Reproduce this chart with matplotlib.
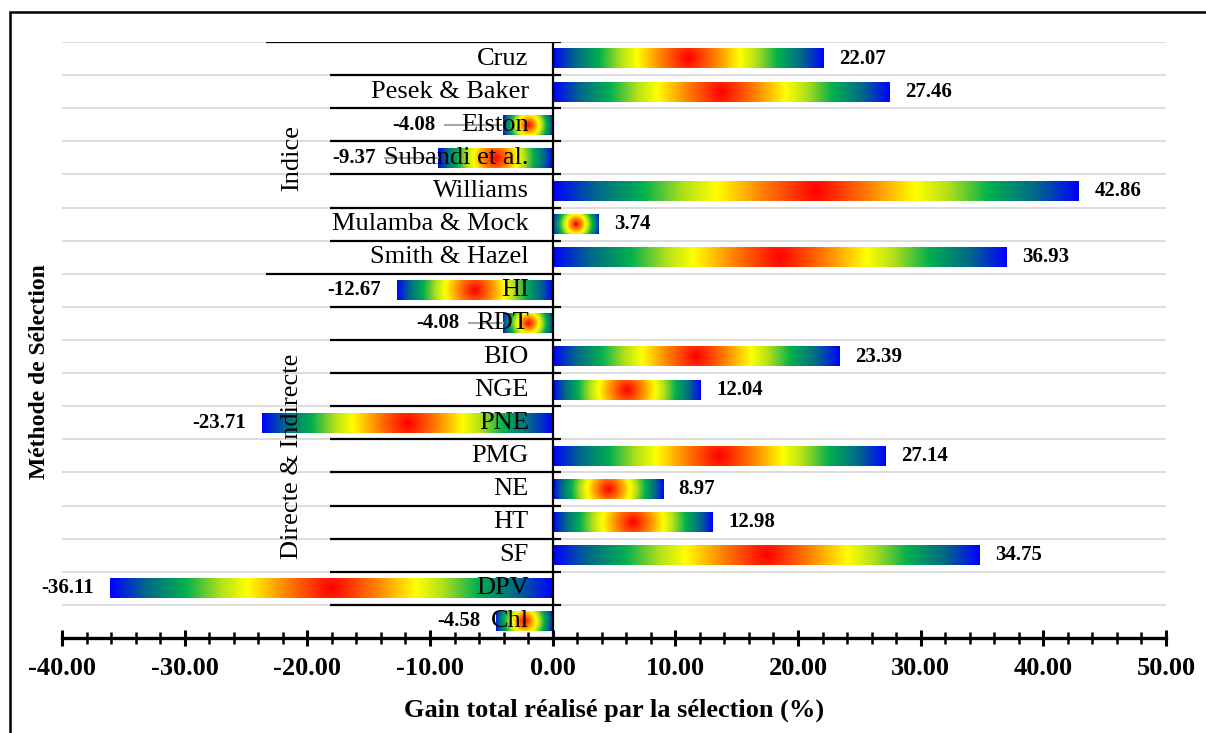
import numpy as np
import matplotlib
matplotlib.use("Agg")
import matplotlib.pyplot as plt
from matplotlib.colors import LinearSegmentedColormap
from matplotlib.transforms import ScaledTranslation
from matplotlib.patches import Rectangle

# ---------------- data ----------------
categories = ["Cruz", "Pesek & Baker", "Elston", "Subandi et al.", "Williams",
              "Mulamba & Mock", "Smith & Hazel", "HI", "RDT", "BIO", "NGE", "PNE",
              "PMG", "NE", "HT", "SF", "DPV", "Chl"]
values = [22.07, 27.46, -4.08, -9.37, 42.86, 3.74, 36.93, -12.67, -4.08, 23.39,
          12.04, -23.71, 27.14, 8.97, 12.98, 34.75, -36.11, -4.58]
groups = ["Indice", "Directe & Indirecte"]
group_sizes = [7, 11]
xticks = np.arange(-40, 51, 10)
xlabel = "Gain total réalisé par la sélection (%)"
ylabel = "Méthode de Sélection"

# extra label shifts (pixels) for labels moved off their bars, with leader lines
label_shift_px = {"Elston": -51, "Subandi et al.": -46, "RDT": -27}

# ---------------- style ----------------
W, H, DPI = 1206, 733, 100
SERIF = ["Liberation Serif", "DejaVu Serif"]
plt.rcParams["font.family"] = SERIF

fig = plt.figure(figsize=(W / DPI, H / DPI), dpi=DPI)
ax_l, ax_r, ax_t, ax_b = 62, 1166, 42, 638
ax = fig.add_axes([ax_l / W, 1 - ax_b / H, (ax_r - ax_l) / W, (ax_b - ax_t) / H])

xmin, xmax = -40, 50
n = len(categories)
ax.set_xlim(xmin, xmax)
ax.set_ylim(n - 0.5, -0.5)

ppu = (ax_r - ax_l) / (xmax - xmin)      # pixels per x unit
row_px = (ax_b - ax_t) / n               # pixels per row
bar_h = 0.6
x_zero_px = ax_l - xmin * ppu

cmap = LinearSegmentedColormap.from_list("rad", [
    (0.00, (1.00, 0.00, 0.00)),
    (0.20, (1.00, 0.50, 0.00)),
    (0.38, (1.00, 1.00, 0.00)),
    (0.50, (0.70, 0.88, 0.10)),
    (0.66, (0.00, 0.69, 0.31)),
    (0.84, (0.00, 0.40, 0.55)),
    (1.00, (0.00, 0.00, 1.00)),
])

# gridlines
for b in np.arange(-0.5, n - 0.5, 1.0):
    ax.axhline(b, color="#d9d9d9", lw=1.3, zorder=0)

# gradient bars
for i, v in enumerate(values):
    x0, x1 = min(0, v), max(0, v)
    wpx = abs(v) * ppu
    hpx = bar_h * row_px
    nx = max(int(wpx * 2), 10)
    ny = int(hpx * 2)
    xs = (np.arange(nx) + 0.5) / nx * wpx - wpx / 2
    ys = (np.arange(ny) + 0.5) / ny * hpx - hpx / 2
    XX, YY = np.meshgrid(xs, ys)
    R = np.hypot(wpx / 2, hpx / 2)
    d = np.clip(np.hypot(XX, YY) / R, 0, 1)
    ax.imshow(cmap(d), extent=[x0, x1, i + bar_h / 2, i - bar_h / 2],
              aspect="auto", interpolation="bilinear", zorder=2)

ax.set_xlim(xmin, xmax)
ax.set_ylim(n - 0.5, -0.5)

# spines / ticks
for s in ["top", "right", "left"]:
    ax.spines[s].set_visible(False)
ax.spines["bottom"].set_linewidth(2.4)
ax.spines["bottom"].set_zorder(5)
ax.set_xticks(xticks)
ax.set_xticks(np.arange(-40, 51, 2), minor=True)
ax.set_xticklabels([f"{t:.2f}" for t in xticks], fontsize=19, fontweight="bold")
ax.tick_params(axis="x", which="major", direction="inout", length=12, width=2.2, pad=8)
ax.tick_params(axis="x", which="minor", direction="inout", length=8, width=1.8)
ax.set_yticks([])
ax.set_xlabel(xlabel, fontsize=19, fontweight="bold", labelpad=13)

# category axis at x = 0
ax.plot([0, 0], [-0.5, n - 0.5], color="black", lw=1.6, zorder=4, solid_capstyle="butt")
x_inner = -(x_zero_px - 330) / ppu
x_outer = -(x_zero_px - 266) / ppu
x_tick_r = 8 / ppu
group_bounds = np.cumsum([0] + group_sizes) - 0.5
for b in np.arange(-0.5, n - 0.5, 1.0):
    xl = x_outer if b in group_bounds else x_inner
    ax.plot([xl, x_tick_r], [b, b], color="black", lw=1.6, zorder=4, solid_capstyle="butt")

# category labels
lab_tr = ax.transData + ScaledTranslation(-24 / DPI, 0, fig.dpi_scale_trans)
for i, c in enumerate(categories):
    ax.text(0, i, c, transform=lab_tr, ha="right", va="center", fontsize=19, zorder=6)

# group labels
x_group = -(x_zero_px - 292) / ppu
start = 0
for g, sz in zip(groups, group_sizes):
    yc = start + (sz - 1) / 2
    ax.text(x_group, yc, g, rotation=90, ha="center", va="center", fontsize=19, zorder=6)
    start += sz

# data labels
for i, (c, v) in enumerate(zip(categories, values)):
    if v >= 0:
        tr = ax.transData + ScaledTranslation(16 / DPI, 0, fig.dpi_scale_trans)
        ax.text(v, i, f"{v:.2f}", transform=tr, ha="left", va="center",
                fontsize=15, fontweight="bold", zorder=7)
    else:
        shift = label_shift_px.get(c, 0)
        tr = ax.transData + ScaledTranslation((-16 + shift) / DPI, 0, fig.dpi_scale_trans)
        ax.text(v, i, f"{v:.2f}", transform=tr, ha="right", va="center",
                fontsize=15, fontweight="bold", zorder=7)
        if shift:
            xs_line = v + (-16 + shift + 9) / ppu
            ax.plot([xs_line, v], [i, i], color="#a6a6a6", lw=1.5, zorder=3)

# y axis title
fig.text(40 / W, 1 - 372 / H, ylabel, rotation=90, ha="center", va="center",
         fontsize=17, fontweight="bold")

# figure border
fig.patches.append(Rectangle((10 / W, -0.1), 1.2, 1 - 12 / H + 0.1, transform=fig.transFigure,
                             fill=False, lw=1.8, edgecolor="black"))

fig.savefig("out.png", dpi=DPI)
